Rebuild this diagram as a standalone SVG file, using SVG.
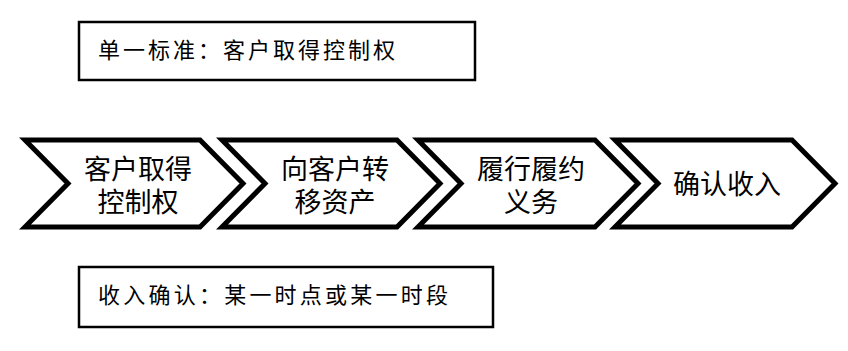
<svg xmlns="http://www.w3.org/2000/svg" width="848" height="351" viewBox="0 0 848 351">
<style>
.chev{fill:#fff;stroke:#000;stroke-width:5;stroke-linejoin:miter}
.box{fill:#fff;stroke:#000;stroke-width:2.5}
.t{font-family:"Liberation Serif","Noto Sans CJK SC",serif;fill:#000}
.ct{font-size:27px;text-anchor:middle}
.bt{font-size:22px}
</style>
<rect width="848" height="351" fill="#fff"/>
<g id="note-top">
<rect class="box" x="79" y="22" width="396" height="58"/>
<text class="t bt" x="98" y="58" textLength="297" lengthAdjust="spacing">单一标准：客户取得控制权</text>
</g>
<g id="step1">
<polygon class="chev" points="25,140 200,140 243,183.5 200,227 25,227 68,183.5"/>
<text class="t ct" x="138" y="179">客户取得</text>
<text class="t ct" x="138" y="212">控制权</text>
</g>
<g id="step2">
<polygon class="chev" points="222,140 397,140 440,183.5 397,227 222,227 265,183.5"/>
<text class="t ct" x="335" y="179">向客户转</text>
<text class="t ct" x="335" y="212">移资产</text>
</g>
<g id="step3">
<polygon class="chev" points="418,140 595,140 638,183.5 595,227 418,227 461,183.5"/>
<text class="t ct" x="531" y="179">履行履约</text>
<text class="t ct" x="531" y="212">义务</text>
</g>
<g id="step4">
<polygon class="chev" points="615,140 792,140 835,183.5 792,227 615,227 658,183.5"/>
<text class="t ct" x="727" y="194">确认收入</text>
</g>
<g id="note-bottom">
<rect class="box" x="79" y="267" width="414" height="60"/>
<text class="t bt" x="98" y="303" textLength="350" lengthAdjust="spacing">收入确认：某一时点或某一时段</text>
</g>
<g id="connectors"></g>
</svg>
